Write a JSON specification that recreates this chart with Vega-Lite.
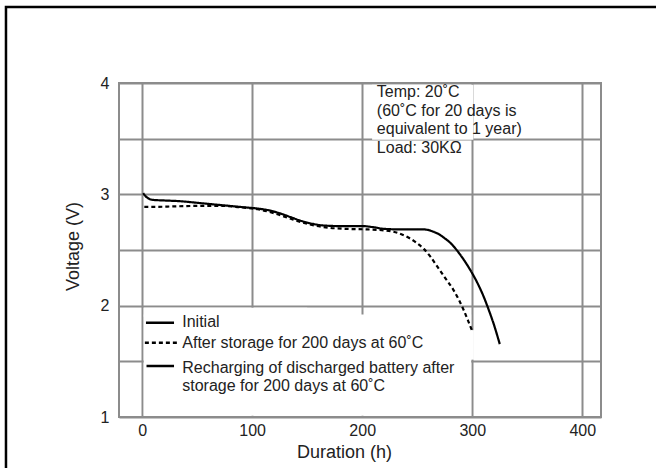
{
  "$schema": "https://vega.github.io/schema/vega-lite/v6.json",
  "width": 482,
  "height": 334,
  "autosize": {"type": "none"},
  "padding": {"left": 119, "top": 83, "right": 55, "bottom": 51},
  "background": "white",
  "config": {
    "font": "Liberation Sans",
    "view": {"stroke": "#8c8c8c", "strokeWidth": 2},
    "axis": {"gridColor": "#8c8c8c", "gridWidth": 2, "gridOpacity": 1, "domain": false, "ticks": false, "tickSize": 0, "labelColor": "#222", "titleColor": "#222", "labelFont": "Liberation Sans", "titleFont": "Liberation Sans", "titleFontWeight": "normal"}
  },
  "datasets": {
    "boxes": [
      {"x": 209, "x2": 301, "y": 3.49, "y2": 3.985},
      {"x": 1.5, "x2": 299, "y": 1.012, "y2": 1.92},
      {"x": 1.5, "x2": 150, "y": 1.9, "y2": 1.982},
      {"x": 297, "x2": 301.5, "y": 1.515, "y2": 1.78}
    ],
    "frame": [
      {"x": -123.7, "x2": 1000, "y": 4.683, "y2": -5}
    ],
    "curves": [
      {"series": "Initial", "t": 1, "v": 3.01},
      {"series": "Initial", "t": 3, "v": 2.985},
      {"series": "Initial", "t": 6, "v": 2.962},
      {"series": "Initial", "t": 10, "v": 2.95},
      {"series": "Initial", "t": 20, "v": 2.945},
      {"series": "Initial", "t": 35, "v": 2.938},
      {"series": "Initial", "t": 52, "v": 2.922},
      {"series": "Initial", "t": 70, "v": 2.905},
      {"series": "Initial", "t": 90, "v": 2.886},
      {"series": "Initial", "t": 105, "v": 2.872},
      {"series": "Initial", "t": 115, "v": 2.857},
      {"series": "Initial", "t": 125, "v": 2.83},
      {"series": "Initial", "t": 135, "v": 2.795},
      {"series": "Initial", "t": 145, "v": 2.76},
      {"series": "Initial", "t": 155, "v": 2.735},
      {"series": "Initial", "t": 165, "v": 2.72},
      {"series": "Initial", "t": 180, "v": 2.715},
      {"series": "Initial", "t": 200, "v": 2.715},
      {"series": "Initial", "t": 210, "v": 2.705},
      {"series": "Initial", "t": 220, "v": 2.69},
      {"series": "Initial", "t": 235, "v": 2.685},
      {"series": "Initial", "t": 256, "v": 2.685},
      {"series": "Initial", "t": 261, "v": 2.677},
      {"series": "Initial", "t": 265, "v": 2.663},
      {"series": "Initial", "t": 270, "v": 2.64},
      {"series": "Initial", "t": 275, "v": 2.605},
      {"series": "Initial", "t": 280, "v": 2.565},
      {"series": "Initial", "t": 285, "v": 2.51},
      {"series": "Initial", "t": 290, "v": 2.445},
      {"series": "Initial", "t": 295, "v": 2.372},
      {"series": "Initial", "t": 300, "v": 2.29},
      {"series": "Initial", "t": 305, "v": 2.198},
      {"series": "Initial", "t": 310, "v": 2.09},
      {"series": "Initial", "t": 315, "v": 1.962},
      {"series": "Initial", "t": 320, "v": 1.82},
      {"series": "Initial", "t": 325, "v": 1.655},
      {"series": "After", "t": 2, "v": 2.887},
      {"series": "After", "t": 15, "v": 2.888},
      {"series": "After", "t": 30, "v": 2.892},
      {"series": "After", "t": 50, "v": 2.896},
      {"series": "After", "t": 70, "v": 2.897},
      {"series": "After", "t": 90, "v": 2.883},
      {"series": "After", "t": 105, "v": 2.866},
      {"series": "After", "t": 120, "v": 2.83},
      {"series": "After", "t": 135, "v": 2.78},
      {"series": "After", "t": 150, "v": 2.735},
      {"series": "After", "t": 165, "v": 2.705},
      {"series": "After", "t": 185, "v": 2.69},
      {"series": "After", "t": 205, "v": 2.685},
      {"series": "After", "t": 220, "v": 2.676},
      {"series": "After", "t": 232, "v": 2.655},
      {"series": "After", "t": 242, "v": 2.612},
      {"series": "After", "t": 250, "v": 2.56},
      {"series": "After", "t": 256, "v": 2.51},
      {"series": "After", "t": 262, "v": 2.44},
      {"series": "After", "t": 268, "v": 2.355},
      {"series": "After", "t": 275, "v": 2.255},
      {"series": "After", "t": 283, "v": 2.14},
      {"series": "After", "t": 288, "v": 2.05},
      {"series": "After", "t": 292, "v": 1.965},
      {"series": "After", "t": 296, "v": 1.87},
      {"series": "After", "t": 300, "v": 1.77}
    ],
    "legendLines": [
      {"series": "Initial", "x": 3.5, "x2": 29, "y": 1.847},
      {"series": "After", "x": 2.5, "x2": 32, "y": 1.668},
      {"series": "Recharging", "x": 4, "x2": 29, "y": 1.458}
    ],
    "labels": [
      {"x": 36.5, "y": 1.856, "text": "Initial"},
      {"x": 36.5, "y": 1.662, "text": "After storage for 200 days at 60˚C"},
      {"x": 36.5, "y": 1.44, "text": "Recharging of discharged battery after"},
      {"x": 36.5, "y": 1.274, "text": "storage for 200 days at 60˚C"},
      {"x": 213.3, "y": 3.922, "text": "Temp: 20˚C"},
      {"x": 213.3, "y": 3.751, "text": "(60˚C for 20 days is"},
      {"x": 213.3, "y": 3.584, "text": "equivalent to 1 year)"},
      {"x": 213.3, "y": 3.413, "text": "Load: 30KΩ"}
    ]
  },
  "layer": [
    {
      "data": {"name": "boxes"},
      "mark": {"type": "rect", "fill": "white", "stroke": null},
      "encoding": {
        "x": {"field": "x", "type": "quantitative", "scale": {"domain": [-21, 417], "nice": false, "zero": false},
          "axis": {"values": [0, 100, 200, 300, 400], "grid": true, "labelFontSize": 16, "labelPadding": 5, "title": "Duration (h)", "titleFontSize": 18, "titlePadding": 5, "titleX": 225}},
        "x2": {"field": "x2"},
        "y": {"field": "y", "type": "quantitative", "scale": {"domain": [1, 4], "nice": false, "zero": false},
          "axis": {"values": [1, 1.5, 2, 2.5, 3, 3.5, 4], "grid": true, "labelExpr": "datum.value % 1 === 0 ? format(datum.value, 'd') : ''", "labelFontSize": 16, "labelPadding": 10, "title": "Voltage (V)", "titleFontSize": 18, "titleX": -46, "titleY": 163, "titleAngle": -90, "titleAlign": "center", "titleBaseline": "middle"}},
        "y2": {"field": "y2"}
      }
    },
    {
      "data": {"name": "curves"},
      "mark": {"type": "line", "color": "black", "strokeWidth": 2.2, "interpolate": "monotone"},
      "encoding": {
        "x": {"field": "t", "type": "quantitative", "title": "Duration (h)"},
        "y": {"field": "v", "type": "quantitative", "title": "Voltage (V)"},
        "detail": {"field": "series"},
        "strokeDash": {"field": "series", "type": "nominal", "scale": {"domain": ["Initial", "After", "Recharging"], "range": [[1, 0], [4, 3], [1, 0]]}, "legend": null}
      }
    },
    {
      "data": {"name": "legendLines"},
      "mark": {"type": "rule", "color": "black", "strokeWidth": 2.5},
      "encoding": {
        "x": {"field": "x", "type": "quantitative", "title": "Duration (h)"},
        "x2": {"field": "x2"},
        "y": {"field": "y", "type": "quantitative", "title": "Voltage (V)"},
        "strokeDash": {"field": "series", "type": "nominal", "legend": null}
      }
    },
    {
      "data": {"name": "labels"},
      "mark": {"type": "text", "align": "left", "baseline": "middle", "fontSize": 16, "color": "#222", "font": "Liberation Sans"},
      "encoding": {
        "x": {"field": "x", "type": "quantitative", "title": "Duration (h)"},
        "y": {"field": "y", "type": "quantitative", "title": "Voltage (V)"},
        "text": {"field": "text"}
      }
    },
    {
      "data": {"name": "frame"},
      "mark": {"type": "rect", "fill": null, "stroke": "black", "strokeWidth": 2.5, "clip": false},
      "encoding": {
        "x": {"field": "x", "type": "quantitative", "title": "Duration (h)"},
        "x2": {"field": "x2"},
        "y": {"field": "y", "type": "quantitative", "title": "Voltage (V)"},
        "y2": {"field": "y2"}
      }
    }
  ]
}
